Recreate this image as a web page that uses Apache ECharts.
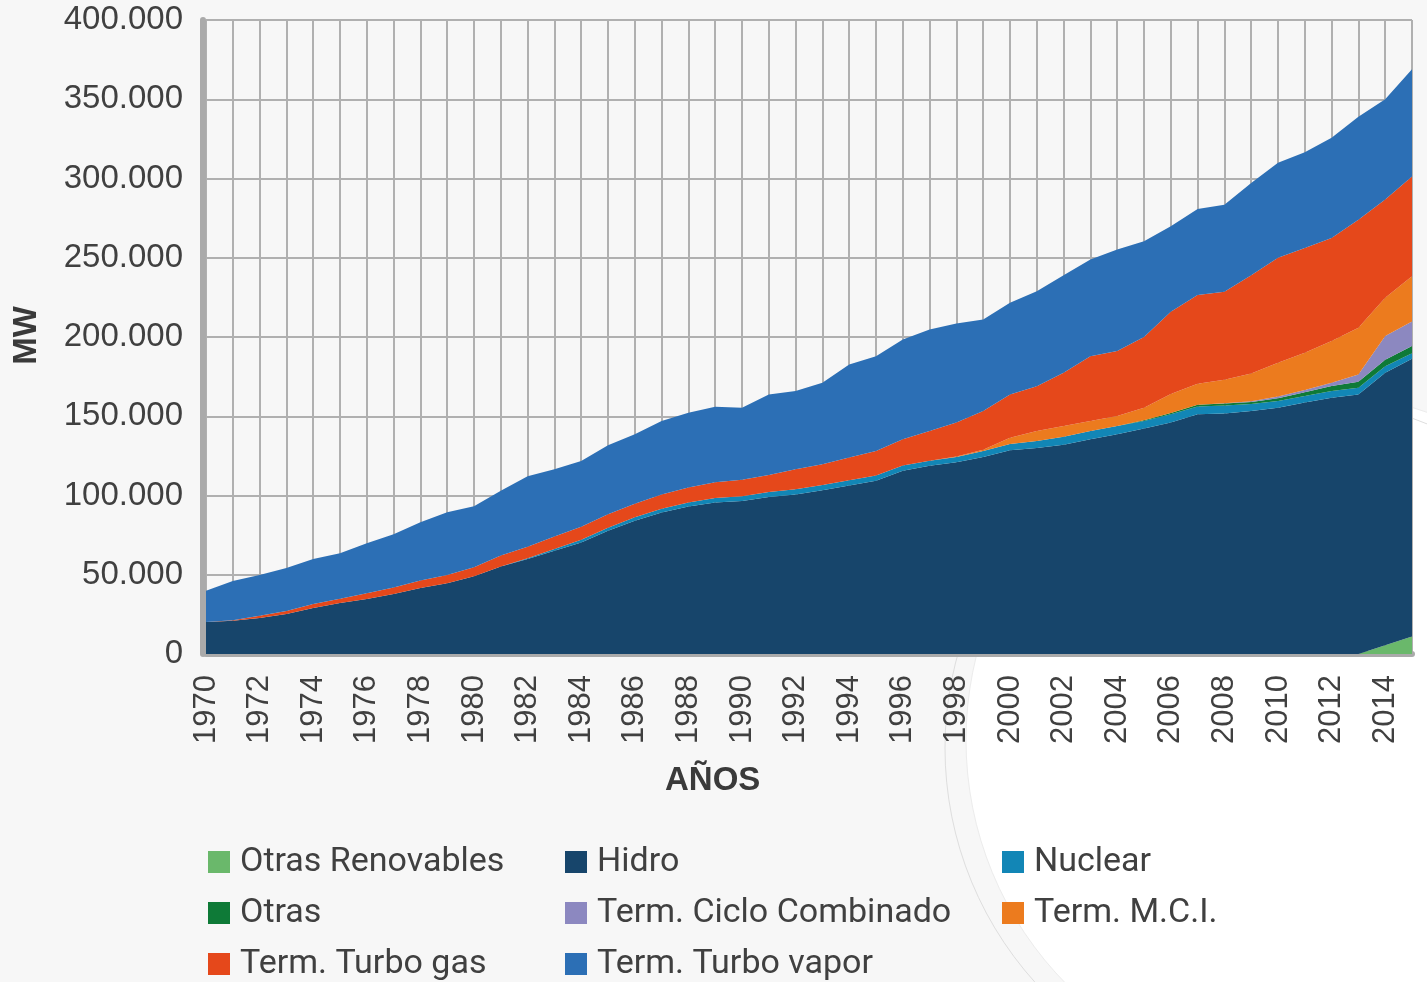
<!DOCTYPE html>
<html>
<head>
<meta charset="utf-8">
<script src="https://cdn.jsdelivr.net/npm/echarts@6/dist/echarts.min.js"></script>
<style>
  html, body { margin: 0; padding: 0; background: #f7f7f7; }
  #chart { width: 1427px; height: 982px; }
</style>
</head>
<body>
<div id="chart"></div>
<script>
// años 1970 - 2015
const years = [];
for (let y = 1970; y <= 2015; y++) years.push(String(y));

// MW instalados por tecnología
const otrasRenovables = [0,0,0,0,0,0,0,0,0,0, 0,0,0,0,0,0,0,0,0,0, 0,0,0,0,0,0,0,0,0,0, 0,0,0,0,0,0,0,0,0,0, 0,0,0,0,5500,11000];
const hidro = [20200,21000,22700,25200,29000,32100,34700,37800,41600,44700,
  49100,55200,59900,65100,70400,77700,84000,89300,93000,95600,
  96600,99000,100700,103300,106300,109300,115600,118700,121000,124300,
  128500,130000,132000,135500,138600,142200,146000,151200,151800,153300,
  155400,158600,161700,163800,172000,175300];
const nuclear = [0,0,0,0,0,0,0,0,0,0,
  0,0,500,1200,1700,2000,2200,2400,2600,2800,
  3000,3200,3300,3300,3300,3300,3300,3300,3300,3800,
  4000,4400,5000,5200,5200,4800,5300,5000,5000,4500,
  4200,4100,4200,4200,4100,3500];
const otras = [0,0,0,0,0,0,0,0,0,0, 0,0,0,0,0,0,0,0,0,0, 0,0,0,0,0,0,0,0,0,0,
  0,0,0,0,0,500,800,1000,1200,1200,
  1800,2500,3200,3800,4000,4500];
const cicloCombinado = [0,0,0,0,0,0,0,0,0,0, 0,0,0,0,0,0,0,0,0,0, 0,0,0,0,0,0,0,0,0,0,
  0,0,0,0,0,0,0,0,200,500,
  1000,1300,2000,4500,15000,15500];
const mci = [0,0,0,0,0,0,0,0,0,0, 0,0,0,0,0,0,0,0,0,0, 0,0,0,0,0,0,0,0,300,800,
  4000,6300,6800,6300,6300,7900,11900,13300,14800,17500,
  21400,23600,26300,29500,24100,28500];
const turboGas = [0,300,1500,2000,2600,2800,3600,4200,4800,5200,
  5700,6900,7300,7800,8200,8400,8600,9000,9500,10000,
  10400,10800,12600,13100,14300,15500,16600,18700,21400,24400,
  27300,28300,33700,40900,41000,44600,52000,56000,55600,62000,
  66200,66100,65100,68200,62000,63000];
const turboVapor = [19700,24700,25600,27000,28300,28700,31600,33600,36800,39600,
  38400,40900,44400,42400,41500,43600,43800,46300,47100,47600,
  45400,50800,49300,51400,58800,59800,63000,64100,62500,57700,
  57800,59900,61500,61000,64100,60400,53800,54300,54900,58200,
  60000,60300,63200,65000,63300,67700];

const seriesNames = ['Otras Renovables', 'Hidro', 'Nuclear', 'Otras',
  'Term. Ciclo Combinado', 'Term. M.C.I.', 'Term. Turbo gas', 'Term. Turbo vapor'];
const seriesData = [otrasRenovables, hidro, nuclear, otras, cicloCombinado, mci, turboGas, turboVapor];
const colors = ['#6ab86b', '#17456b', '#1286b6', '#0e7a37', '#8c88c0', '#ec7b1e', '#e5481b', '#2c6fb5'];

const textColor = '#404040';

// leyenda en 3 columnas, fila por fila
const legendCols = [208, 565, 1002];
const legendRows = [860, 911, 962];

function legendItem(name, i) {
  return {
    data: [name],
    left: legendCols[i % 3],
    top: legendRows[Math.floor(i / 3)] - 16,
    padding: 0,
    icon: 'rect',
    itemWidth: 22,
    itemHeight: 22,
    textStyle: {
      color: textColor,
      fontFamily: 'Roboto',
      fontSize: 34,
      lineHeight: 36,
      padding: [0, 0, 0, 5]
    }
  };
}

const chart = echarts.init(document.getElementById('chart'));
chart.setOption({
  backgroundColor: '#f7f7f7',
  animation: false,
  color: colors,
  graphic: [
    {
      type: 'circle', z: -10, silent: true,
      shape: { cx: 1313, cy: 740, r: 347 },
      style: { fill: '#ffffff', stroke: '#ececec', lineWidth: 1 }
    },
    {
      type: 'circle', z: -9, silent: true,
      shape: { cx: 1295, cy: 748, r: 350 },
      style: { fill: 'none', stroke: '#dedede', lineWidth: 1 }
    },
    {
      type: 'text', left: 10, top: 306, rotation: Math.PI / 2,
      style: { text: 'MW', fill: '#3a3a3a', font: 'bold 33px "Liberation Sans", Arial' }
    },
    {
      type: 'text', left: 665, top: 764,
      style: { text: 'AÑOS', fill: '#3a3a3a', font: 'bold 33px "Liberation Sans", Arial' }
    }
  ],
  legend: seriesNames.map(legendItem),
  grid: { left: 206, right: 15, top: 20, bottom: 328, containLabel: false },
  xAxis: {
    type: 'category',
    data: years,
    boundaryGap: false,
    offset: 3,
    axisLine: { lineStyle: { color: '#aaaaaa', width: 6 } },
    axisTick: { show: false },
    axisLabel: {
      interval: 1,
      rotate: 90,
      margin: 18,
      color: textColor,
      fontFamily: 'Liberation Sans',
      fontSize: 31
    },
    splitLine: { show: true, interval: 0, lineStyle: { color: '#b0b0b0', width: 2 } }
  },
  yAxis: {
    type: 'value',
    min: 0,
    max: 400000,
    interval: 50000,
    offset: 3,
    axisLine: { show: true, lineStyle: { color: '#aaaaaa', width: 6 } },
    axisTick: { show: false },
    axisLabel: {
      margin: 20,
      color: textColor,
      fontFamily: 'Liberation Sans',
      fontSize: 33,
      formatter: function (v) {
        return v === 0 ? '0' : String(v).replace(/\B(?=(\d{3})+(?!\d))/g, '.');
      }
    },
    splitLine: { show: true, lineStyle: { color: '#b0b0b0', width: 2 } }
  },
  series: seriesNames.map(function (name, i) {
    return {
      name: name,
      type: 'line',
      stack: 'total',
      data: seriesData[i],
      showSymbol: false,
      symbol: 'none',
      lineStyle: { width: 0 },
      areaStyle: { color: colors[i], opacity: 1 },
      itemStyle: { color: colors[i] }
    };
  })
});
</script>
</body>
</html>
